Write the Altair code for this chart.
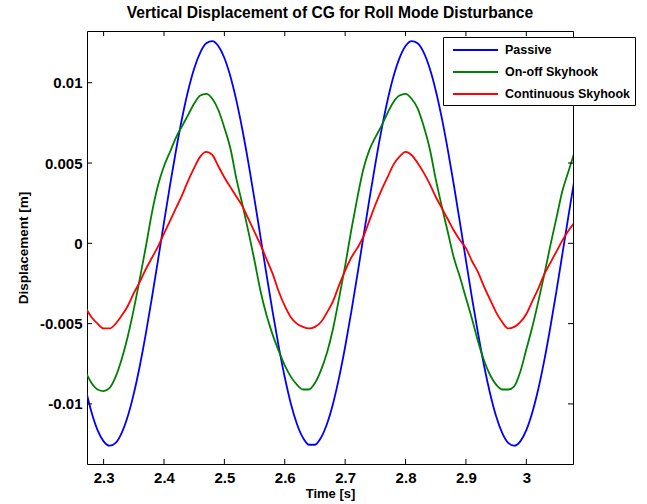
import altair as alt
import pandas as pd

# ---- data ----
time = [round(2.27 + 0.01 * i, 2) for i in range(82)]

passive = [
    -0.00903, -0.01052, -0.01163, -0.01233, -0.01260, -0.01242, -0.01180, -0.01077, -0.00936, -0.00762,
    -0.00561, -0.00339, -0.00107, 0.00130, 0.00362, 0.00581, 0.00780, 0.00951, 0.01089, 0.01188,
    0.01246, 0.01259, 0.01228, 0.01154, 0.01039, 0.00887, 0.00704, 0.00496, 0.00271, 0.00036,
    -0.00200, -0.00429, -0.00643, -0.00834, -0.00997, -0.01123, -0.01210, -0.01254, -0.01254, -0.01210,
    -0.01123, -0.00997, -0.00835, -0.00644, -0.00430, -0.00201, 0.00035, 0.00270, 0.00495, 0.00703,
    0.00886, 0.01038, 0.01153, 0.01228, 0.01259, 0.01246, 0.01189, 0.01090, 0.00952, 0.00781,
    0.00582, 0.00363, 0.00131, -0.00106, -0.00339, -0.00560, -0.00761, -0.00935, -0.01077, -0.01180,
    -0.01242, -0.01260, -0.01233, -0.01163, -0.01052, -0.00904, -0.00724, -0.00518, -0.00295, -0.00060,
    0.00176, 0.00406,
]

onoff = [
    -0.0080, -0.0087, -0.0091, -0.0092, -0.0090, -0.0083, -0.0072, -0.0058, -0.0041, -0.0022,
    -0.0002, 0.0019, 0.0036, 0.0048, 0.0057, 0.0066, 0.0073, 0.0080, 0.0087, 0.0092,
    0.0093, 0.0090, 0.0083, 0.0072, 0.0059, 0.0040, 0.0024, 0.0007, -0.0011, -0.0030,
    -0.0045, -0.0057, -0.0067, -0.0076, -0.0083, -0.0088, -0.0091, -0.0091, -0.0087, -0.0079,
    -0.0068, -0.0053, -0.0034, -0.0014, 0.0008, 0.0028, 0.0046, 0.0058, 0.0066, 0.0073,
    0.0081, 0.0088, 0.0092, 0.0093, 0.0090, 0.0084, 0.0073, 0.0059, 0.0040, 0.0023,
    0.0007, -0.0009, -0.0021, -0.0034, -0.0047, -0.0061, -0.0073, -0.0082, -0.0088, -0.0091,
    -0.0091, -0.0089, -0.0080, -0.0066, -0.0052, -0.0036, -0.0019, -0.0001, 0.0016, 0.0033,
    0.0045, 0.0057,
]

continuous = [
    -0.0040, -0.0046, -0.0050, -0.0053, -0.0053, -0.0050, -0.0045, -0.0039, -0.0031, -0.0024,
    -0.0016, -0.0009, -0.0002, 0.0006, 0.0014, 0.0022, 0.0030, 0.0039, 0.0047, 0.0054,
    0.0057, 0.0055, 0.0048, 0.0041, 0.0035, 0.0029, 0.0023, 0.0015, 0.0007, -0.0001,
    -0.0010, -0.0019, -0.0030, -0.0039, -0.0046, -0.0050, -0.0052, -0.0053, -0.0052, -0.0049,
    -0.0043, -0.0036, -0.0026, -0.0017, -0.0009, -0.0003, 0.0004, 0.0014, 0.0024, 0.0033,
    0.0041, 0.0049, 0.0054, 0.0057, 0.0055, 0.0050, 0.0044, 0.0037, 0.0029, 0.0022,
    0.0015, 0.0008, 0.0002, -0.0003, -0.0011, -0.0018, -0.0027, -0.0035, -0.0043, -0.0049,
    -0.0053, -0.0052, -0.0049, -0.0044, -0.0036, -0.0028, -0.0019, -0.0012, -0.0005, 0.0002,
    0.0008, 0.0013,
]

series_names = ["Passive", "On-off Skyhook", "Continuous Skyhook"]
series_colors = ["#0000FF", "#008000", "#FF0000"]

x_ticks = [2.3, 2.4, 2.5, 2.6, 2.7, 2.8, 2.9, 3.0]
y_ticks = [-0.01, -0.005, 0.0, 0.005, 0.01]

X_MIN, X_MAX = 2.2725, 3.0773
Y_MIN, Y_MAX = -0.01374, 0.01322

# ---- build tables ----
rows = []
for name, vals in zip(series_names, [passive, onoff, continuous]):
    for t, v in zip(time, vals):
        rows.append({"t": t, "v": v, "series": name})
df = pd.DataFrame(rows)

tick_len_x = 5 * (X_MAX - X_MIN) / 486
tick_len_y = 5 * (Y_MAX - Y_MIN) / 433

# inward tick marks on all four sides of the box
xt_rows = []
for t in x_ticks:
    xt_rows.append({"t": t, "a": Y_MIN, "b": Y_MIN + tick_len_y})
    xt_rows.append({"t": t, "a": Y_MAX, "b": Y_MAX - tick_len_y})
df_xt = pd.DataFrame(xt_rows)
yt_rows = []
for v in y_ticks:
    yt_rows.append({"v": v, "a": X_MIN, "b": X_MIN + tick_len_x})
    yt_rows.append({"v": v, "a": X_MAX, "b": X_MAX - tick_len_x})
df_yt = pd.DataFrame(yt_rows)

FONT = "Liberation Sans"
xscale = alt.Scale(domain=[X_MIN, X_MAX], nice=False, zero=False)
yscale = alt.Scale(domain=[Y_MIN, Y_MAX], nice=False, zero=False)

xaxis = alt.Axis(
    values=x_ticks, format="~g", title="Time [s]", ticks=False, tickSize=0, domain=False,
    grid=False, labelFont=FONT, labelFontSize=15, labelFontWeight="bold", labelColor="black",
    labelPadding=6, titleFont=FONT, titleFontSize=13, titleFontWeight="bold",
    titleColor="black", titlePadding=2, labelFlush=False,
)
yaxis = alt.Axis(
    values=y_ticks, title="Displacement [m]", ticks=False, tickSize=0, domain=False,
    grid=False, labelFont=FONT, labelFontSize=15, labelFontWeight="bold", labelColor="black",
    labelPadding=5, titleFont=FONT, titleFontSize=13.5, titleFontWeight="bold",
    titleColor="black", titlePadding=9,
    labelExpr="(datum.value < 0 ? '-' : '') + format(abs(datum.value), '~g')",
)

lines = alt.Chart(df).mark_line(strokeWidth=1.8, clip=True, interpolate="monotone").encode(
    x=alt.X("t:Q", scale=xscale, axis=xaxis),
    y=alt.Y("v:Q", scale=yscale, axis=yaxis),
    color=alt.Color(
        "series:N",
        scale=alt.Scale(domain=series_names, range=series_colors),
        sort=series_names,
        legend=alt.Legend(
            title=None, orient="none", legendX=356, legendY=6, direction="vertical",
            fillColor="white", strokeColor="black", padding=4.5,
            symbolType="M-0.4,0H5.6", symbolSize=225, symbolStrokeWidth=2,
            labelFont=FONT, labelFontSize=12.5, labelFontWeight="bold", labelColor="black",
            labelOffset=40.5, rowPadding=7,
        ),
    ),
)

xticks_layer = alt.Chart(df_xt).mark_rule(color="black", strokeWidth=1).encode(
    x=alt.X("t:Q", scale=xscale, axis=xaxis),
    y=alt.Y("a:Q", scale=yscale, axis=yaxis),
    y2="b:Q",
)
yticks_layer = alt.Chart(df_yt).mark_rule(color="black", strokeWidth=1).encode(
    y=alt.Y("v:Q", scale=yscale, axis=yaxis),
    x=alt.X("a:Q", scale=xscale, axis=xaxis),
    x2="b:Q",
)

chart = alt.layer(lines, xticks_layer, yticks_layer).properties(
    width=486, height=433,
    title=alt.TitleParams(
        "Vertical Displacement of CG for Roll Mode Disturbance",
        font=FONT, fontSize=15.6, fontWeight="bold", color="black", anchor="middle", offset=9,
    ),
    autosize=alt.AutoSizeParams(type="none"),
    padding={"left": 87, "top": 31, "right": 74, "bottom": 40},
    background="white",
).configure_view(stroke="black", strokeWidth=1)

chart.save("out.html", embed_options={"renderer": "svg", "actions": False})
